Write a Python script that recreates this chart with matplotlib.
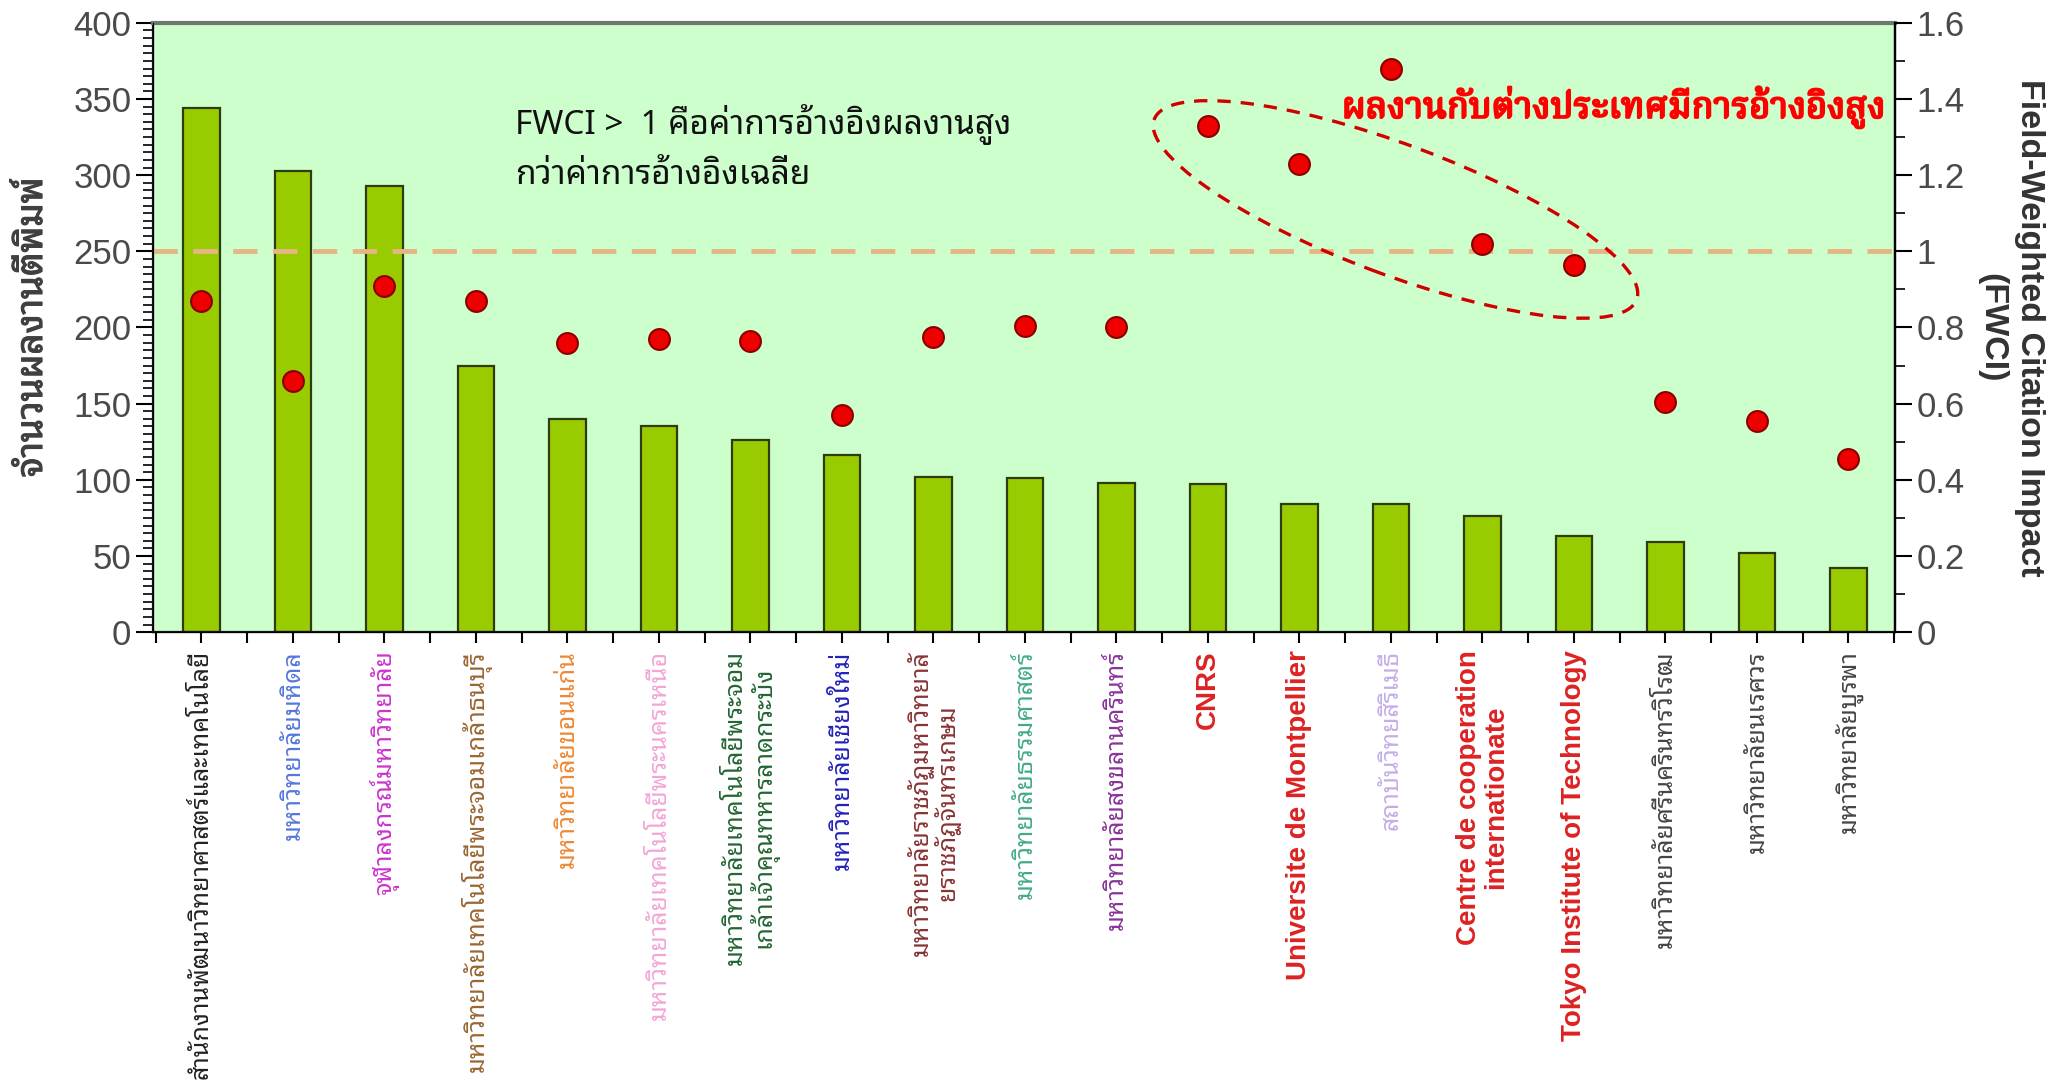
import matplotlib
matplotlib.use("Agg")
import matplotlib.pyplot as plt
import matplotlib.patheffects as pe
import numpy as np
from matplotlib import font_manager
from matplotlib.ft2font import FT2Font
from matplotlib.patches import Ellipse
from matplotlib.transforms import ScaledTranslation
from matplotlib.ticker import MultipleLocator


# ---- datos ----
labels = [
    "สำนักงานพัฒนาวิทยาศาสตร์และเทคโนโลยี",
    "มหาวิทยาลัยมหิดล",
    "จุฬาลงกรณ์มหาวิทยาลัย",
    "มหาวิทยาลัยเทคโนโลยีพระจอมเกล้าธนบุรี",
    "มหาวิทยาลัยขอนแก่น",
    "มหาวิทยาลัยเทคโนโลยีพระนครเหนือ",
    "มหาวิทยาลัยเทคโนโลยีพระจอม\nเกล้าเจ้าคุณทหารลาดกระบัง",
    "มหาวิทยาลัยเชียงใหม่",
    "มหาวิทยาลัยราชภัฏมหาวิทยาลั\nยราชภัฏจันทรเกษม",
    "มหาวิทยาลัยธรรมศาสตร์",
    "มหาวิทยาลัยสงขลานครินทร์",
    "CNRS",
    "Universite de Montpellier",
    "สถาบันวิทยสิริเมธี",
    "Centre de cooperation\ninternationate",
    "Tokyo Institute of Technology",
    "มหาวิทยาลัยศรีนครินทรวิโรฒ",
    "มหาวิทยาลัยนเรศวร",
    "มหาวิทยาลัยบูรพา",
]
publicaciones = [344, 303, 293, 175, 140, 135, 126, 116, 102, 101, 98, 97, 84, 84, 76, 63, 59, 52, 42]
fwci = [0.87, 0.66, 0.91, 0.87, 0.76, 0.77, 0.765, 0.57, 0.775, 0.805, 0.80,
        1.33, 1.23, 1.48, 1.02, 0.965, 0.605, 0.555, 0.455]
colores_etiquetas = ["#222222", "#5577dd", "#cc33cc", "#996633", "#ee8833", "#f2a6d6",
                     "#226633", "#2222bb", "#883333", "#44aa88", "#883399", "#dd2222",
                     "#dd2222", "#c4aeea", "#dd2222", "#dd2222", "#444444", "#444444", "#444444"]
extranjeros = [11, 12, 14, 15]


# buscar una fuente con glifos tailandeses
def buscar_fuente(codigo=0x0E01, preferir=()):
    encontradas = []
    for f in font_manager.fontManager.ttflist:
        try:
            if codigo in FT2Font(f.fname).get_charmap():
                encontradas.append(f.name)
        except Exception:
            pass
    for p in preferir:
        for n in encontradas:
            if p.lower() in n.lower():
                return n
    return encontradas[0] if encontradas else "DejaVu Sans"

thai_sans = buscar_fuente(preferir=("Noto Sans Thai", "Sans Thai", "Loma", "Garuda", "Tahoma"))
thai_serif = buscar_fuente(preferir=("Noto Serif Thai", "Serif Thai", "Norasi", "Kinnari", "Sarabun"))
fam_thai = [thai_sans, "Liberation Sans", "DejaVu Sans"]
fam_thai_serif = [thai_serif, thai_sans, "DejaVu Sans"]

plt.rcParams["font.family"] = ["Liberation Sans", thai_sans, "DejaVu Sans"]

fig = plt.figure(figsize=(20.72, 10.88), dpi=100)
ax = fig.add_subplot(111)
fig.subplots_adjust(left=0.0738, right=0.9146, top=0.979, bottom=0.419)

x = np.arange(len(labels))
ax.set_facecolor("#ccffcc")
ax.bar(x, publicaciones, width=0.4, color="#99cc00", edgecolor="#2d3d10", linewidth=1.6, zorder=2)
ax.set_xlim(-0.53, 18.51)
ax.set_ylim(0, 400)
ax.yaxis.set_major_locator(MultipleLocator(50))
ax.yaxis.set_minor_locator(MultipleLocator(5))
ax.tick_params(axis="y", which="major", length=12, width=1.5, labelsize=25, labelcolor="#4a4a4a", direction="out")
ax.tick_params(axis="y", which="minor", length=7, width=1.2, direction="out")

ax.set_xticks(x)
ax.set_xticks(np.arange(-0.5, 18.6, 1.0), minor=True)
ax.set_xticklabels(labels, rotation=90, va="top", ha="center", multialignment="center")
ax.tick_params(axis="x", which="both", length=8, width=1.5, direction="out", pad=5)
for i, t in enumerate(ax.get_xticklabels()):
    t.set_color(colores_etiquetas[i])
    if i in extranjeros:
        t.set_fontfamily(["Liberation Sans", "DejaVu Sans"])
        t.set_fontweight("bold")
        t.set_fontsize(20)
        t.set_linespacing(1.05)
    else:
        t.set_fontfamily(fam_thai)
        t.set_fontsize(18)
        t.set_linespacing(1.0)

ax.set_ylabel("จำนวนผลงานตีพิมพ์", fontsize=26.5, fontweight="bold", color="#404040",
              family=fam_thai, labelpad=16,
              path_effects=[pe.withStroke(linewidth=0.8, foreground="#404040")])

for lado in ["left", "bottom", "right"]:
    ax.spines[lado].set_linewidth(1.6)
    ax.spines[lado].set_color("#111111")
ax.spines["top"].set_linewidth(3)
ax.spines["top"].set_color("#6f786f")

# eje derecho FWCI
ax2 = ax.twinx()
ax2.set_ylim(0, 1.6)
ax2.plot(x, fwci, "o", color="#ee0000", markeredgecolor="#8a0000", markeredgewidth=1.5,
         markersize=15, zorder=4)
ax2.axhline(1.0, color="#e6b585", linestyle=(0, (5, 3.2)), linewidth=3.5, zorder=1)
ax2.yaxis.set_major_locator(MultipleLocator(0.2))
ax2.yaxis.set_minor_locator(MultipleLocator(0.1))
ax2.yaxis.set_major_formatter(plt.FuncFormatter(lambda v, p: f"{v:g}"))
ax2.tick_params(axis="y", which="major", length=12, width=1.5, labelsize=25, labelcolor="#4a4a4a", direction="out")
ax2.tick_params(axis="y", which="minor", length=7, width=1.2, direction="out")
ax2.set_ylabel("Field-Weighted Citation Impact\n(FWCI)", rotation=270, fontsize=24.5,
               fontweight="bold", color="#333333", labelpad=58, linespacing=1.3)
ax2.spines["right"].set_linewidth(1.6)
ax2.spines["top"].set_visible(False)

# elipse alrededor de los socios extranjeros
trans = fig.dpi_scale_trans + ScaledTranslation(13.05, 1.11, ax2.transData)
elipse = Ellipse((0, 0), 5.15, 1.3, angle=-20.5, transform=trans, fill=False,
                 edgecolor="#d00000", linestyle=(0, (4, 3)), linewidth=2.4, zorder=5)
ax2.add_patch(elipse)

ax2.text(0.994, 0.862, "ผลงานกับต่างประเทศมีการอ้างอิงสูง", transform=ax2.transAxes,
         ha="right", va="center", fontsize=26, fontweight="bold", color="#ff0000",
         family=fam_thai_serif, zorder=6,
         path_effects=[pe.withStroke(linewidth=1.6, foreground="#ff0000")])
ax2.text(0.208, 0.795, "FWCI >  1 คือค่าการอ้างอิงผลงานสูง\nกว่าค่าการอ้างอิงเฉลี่ย",
         transform=ax2.transAxes, ha="left", va="center", fontsize=24, color="#111111",
         family=fam_thai, linespacing=1.55, zorder=6)

ax.set_zorder(ax2.get_zorder() - 1)
ax2.patch.set_visible(False)
ax.patch.set_visible(True)

fig.savefig("out.png", dpi=100, facecolor="white")
